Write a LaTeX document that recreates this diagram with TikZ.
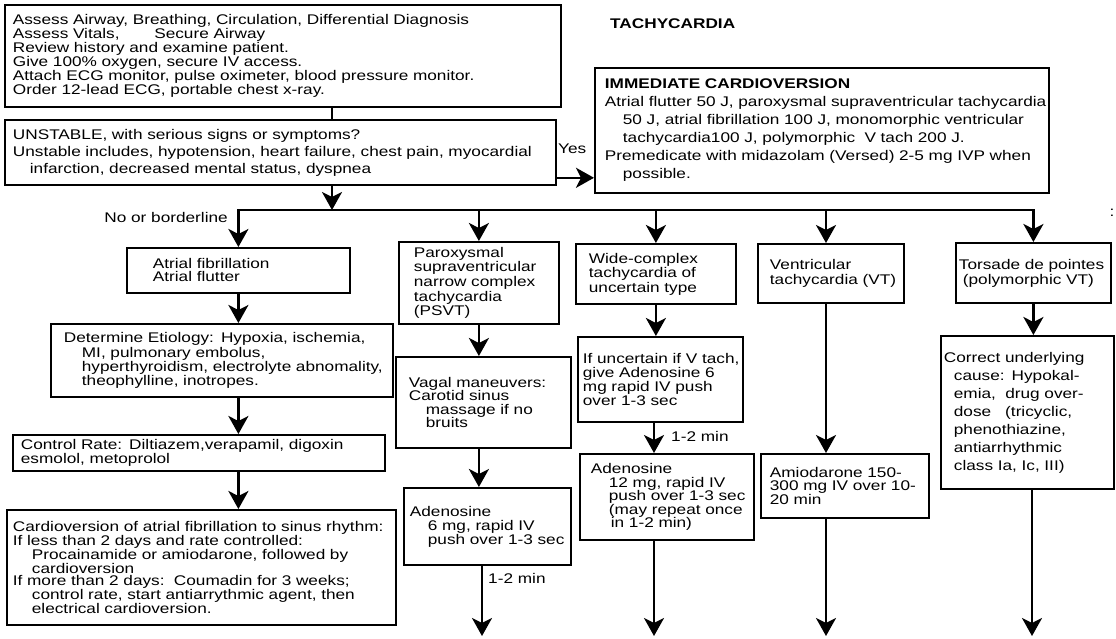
\documentclass[tikz,border=0pt]{standalone}
\usepackage{fontspec}
\setmainfont{Liberation Sans}[FakeStretch=1.23]
\usepackage{tikz}
\usetikzlibrary{arrows.meta}
\newcommand{\boxfont}[1]{\fontsize{14}{#1}\selectfont}
\newcommand{\padtext}[2]{\leftskip=#1pt\rightskip=0pt plus 1fil minus 60pt\relax#2\par}
\newcommand{\indentby}[1]{\hspace*{#1pt}}

\begin{document}
\begin{tikzpicture}[x=1pt, y=-1pt,
	box/.style={
		draw, line width=1.8pt, anchor=north west, align=left,
		inner xsep=0pt, inner ysep=1pt
	},
	lbl/.style={inner sep=0pt, font=\boxfont{14}},
	conn/.style={line width=2.6pt},
	arr/.style={conn, -{Stealth[length=18pt, width=20pt, inset=5pt]}}
]
\useasboundingbox (0,0) rectangle (1116,638);

\node[box, text width=556pt, minimum height=102pt, font=\boxfont{12.3}] (assess) at (4,4) {\padtext{8}{Assess Airway, Breathing, Circulation, Differential Diagnosis\\
	Assess Vitals, \indentby{30}Secure Airway\\
	Review history and examine patient.\\
	Give 100\% oxygen, secure IV access.\\
	Attach ECG monitor, pulse oximeter, blood pressure monitor.\\
	Order 12-lead ECG, portable chest x-ray.}};
\node[box, text width=551pt, minimum height=65pt, font=\boxfont{17}] (unstable) at (4,119) {\padtext{8}{UNSTABLE, with serious signs or symptoms?\\
	Unstable includes, hypotension, heart failure, chest pain, myocardial\\
	\indentby{17}infarction, decreased mental status, dyspnea}};
\node[box, text width=454pt, minimum height=125pt, font=\boxfont{18}] (immediate) at (594,67) {\padtext{10}{\textbf{IMMEDIATE CARDIOVERSION}\\
	Atrial flutter 50 J, paroxysmal supraventricular tachycardia\\
	\indentby{18}50 J, atrial fibrillation 100 J, monomorphic ventricular\\
	\indentby{18}tachycardia100 J, polymorphic\ \ V tach 200 J.\\
	Premedicate with midazolam (Versed) 2-5 mg IVP when\\
	\indentby{18}possible.}};
\node[lbl, anchor=base west, font=\boxfont{14}\bfseries] (title) at (610,28) {TACHYCARDIA};

\node[box, text width=223pt, minimum height=45pt, font=\boxfont{13}] (atrial) at (126,247) {\padtext{26}{Atrial fibrillation\\Atrial flutter}};
\node[box, text width=342pt, minimum height=73pt, font=\boxfont{11.7}] (etiology) at (50,323) {\padtext{13}{Determine Etiology: Hypoxia, ischemia,\\
	\indentby{18}MI, pulmonary embolus,\\
	\indentby{18}hyperthyroidism, electrolyte abnomality,\\
	\indentby{18}theophylline, inotropes.}};
\node[box, text width=372pt, minimum height=36pt, font=\boxfont{12}] (rate) at (12,434) {\padtext{8}{Control Rate: Diltiazem,verapamil, digoxin\\esmolol, metoprolol}};
\node[box, text width=389pt, minimum height=115pt, font=\boxfont{12.5}] (cardio) at (6,509) {\padtext{6}{Cardioversion of atrial fibrillation to sinus rhythm:\\
	If less than 2 days and rate controlled:\\
	\indentby{19}Procainamide or amiodarone, followed by\\
	\indentby{19}cardioversion\\
	If more than 2 days:\ \ Coumadin for 3 weeks;\\
	\indentby{19}control rate, start antiarrythmic agent, then\\
	\indentby{19}electrical cardioversion.}};

\node[box, text width=160pt, minimum height=82pt, font=\boxfont{14.6}] (psvt) at (398,241) {\padtext{15}{Paroxysmal\\supraventricular\\narrow complex\\tachycardia\\(PSVT)}};
\node[box, text width=175pt, minimum height=91pt, font=\boxfont{13.5}] (vagal) at (395,356) {\padtext{13}{Vagal maneuvers:\\Carotid sinus\\\indentby{17}massage if no\\\indentby{17}bruits}};
\node[box, text width=167pt, minimum height=77pt, font=\boxfont{14}] (adensix) at (403,487) {\padtext{6}{Adenosine\\\indentby{18}6 mg, rapid IV\\\indentby{18}push over 1-3 sec}};

\node[box, text width=160pt, minimum height=60pt, font=\boxfont{14.5}] (wide) at (575,243) {\padtext{13}{Wide-complex\\tachycardia of\\uncertain type}};
\node[box, text width=165pt, minimum height=85pt, font=\boxfont{14}] (uncertain) at (577,336) {\padtext{5}{If uncertain if V tach,\\give Adenosine 6\\mg rapid IV push\\over 1-3 sec}};
\node[box, text width=174pt, minimum height=86pt, font=\boxfont{13.5}] (adentwelve) at (579,453) {\padtext{11}{Adenosine\\\indentby{18}12 mg, rapid IV\\\indentby{18}push over 1-3 sec\\\indentby{18}(may repeat once\\\indentby{20}in 1-2 min)}};

\node[box, text width=146pt, minimum height=59pt, font=\boxfont{15}] (vt) at (757,243) {\padtext{12}{Ventricular\\tachycardia (VT)}};
\node[box, text width=168pt, minimum height=64pt, font=\boxfont{13.5}] (amio) at (760,453) {\padtext{9}{Amiodarone 150-\\300 mg IV over 10-\\20 min}};

\node[box, text width=155pt, minimum height=60pt, font=\boxfont{15}] (torsade) at (955,242) {\padtext{3}{Torsade de pointes\\\indentby{4}(polymorphic VT)}};
\node[box, text width=173pt, minimum height=153pt, font=\boxfont{18}] (correct) at (940,335) {\padtext{3}{Correct underlying\\
	\indentby{10}cause: Hypokal-\\
	\indentby{10}emia,\ \ drug over-\\
	\indentby{10}dose\ \ \ (tricyclic,\\
	\indentby{10}phenothiazine,\\
	\indentby{10}antiarrhythmic\\
	\indentby{10}class Ia, Ic, III)}};

\coordinate (split) at (332,210);
\coordinate (yesfrom) at ([yshift=8pt]unstable.south east);
\coordinate (out1) at (482,636);
\coordinate (out2) at (654,636);
\coordinate (out3) at (826,636);
\coordinate (out4) at (1032,636);

\draw[conn] (assess.south -| split) -- (unstable.north -| split);
\draw[arr] (unstable.south -| split) -- (split);
\draw[arr] (yesfrom) -- (yesfrom -| immediate.west);
\draw[arr] (split) -| (atrial.north);
\draw[arr] (split) -| (torsade.north);
\foreach \n in {psvt,wide} {
	\draw[arr] (\n.north |- split) -- (\n.north);
}
\draw[arr] (out3 |- split) -- (out3 |- vt.north);

\draw[arr] (atrial.south) -- (atrial.south |- etiology.north);
\draw[arr] (atrial.south |- etiology.south) -- (atrial.south |- rate.north);
\draw[arr] (atrial.south |- rate.south) -- (atrial.south |- cardio.north);

\draw[arr] (psvt.south) -- (psvt.south |- vagal.north);
\draw[arr] (psvt.south |- vagal.south) -- (psvt.south |- adensix.north);
\draw[arr] (adensix.south -| out1) -- (out1);

\draw[arr] (wide.south) -- (wide.south |- uncertain.north);
\draw[arr] (uncertain.south -| out2) -- (adentwelve.north -| out2);
\draw[arr] (adentwelve.south -| out2) -- (out2);

\draw[arr] (vt.south -| out3) -- (amio.north -| out3);
\draw[arr] (amio.south -| out3) -- (out3);

\draw[arr] (torsade.south) -- (torsade.south |- correct.north);
\draw[arr] (correct.south -| out4) -- (out4);

\node[lbl, anchor=base west] (yes) at (558,153) {Yes};
\node[lbl, anchor=base east] (noborder) at (228,222) {No or borderline};
\node[lbl, anchor=west] (waitsix) at (488,578) {1-2 min};
\node[lbl, anchor=west] (waittwelve) at (671,436) {1-2 min};
\node[lbl] (colon) at (1112,213) {:};
\end{tikzpicture}
\end{document}
